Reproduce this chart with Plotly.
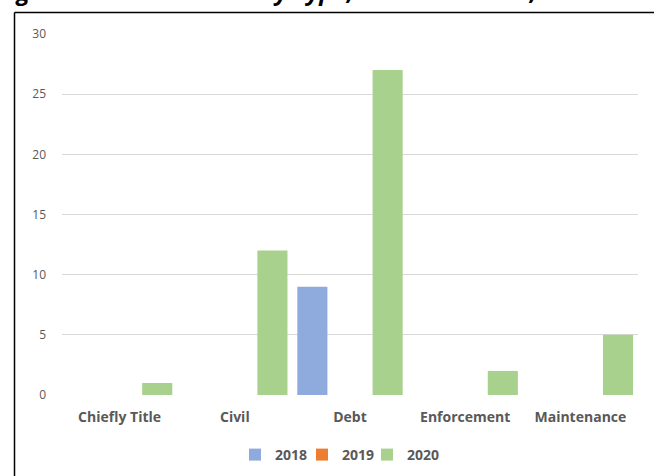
import plotly.graph_objects as go

categories = ["Chiefly Title", "Civil", "Debt", "Enforcement", "Maintenance"]
cases_2018 = [0, 0, 9, 0, 0]
cases_2019 = [0, 0, 0, 0, 0]
cases_2020 = [1, 12, 27, 2, 5]

W, H = 654, 476
L, R, T, B = 62, 16, 34, 81
pw, ph = W - L - R, H - T - B


def px(x):
    return (x - L) / pw


def py(y):
    return (H - B - y) / ph


font = "'Open Sans', Lato, 'Liberation Sans', sans-serif"

fig = go.Figure()
fig.add_trace(go.Bar(x=categories, y=cases_2018, name="2018", legend="legend",
                     marker=dict(color="#8FAADC", line=dict(width=0))))
fig.add_trace(go.Bar(x=categories, y=cases_2019, name="2019", legend="legend2",
                     marker=dict(color="#ED7D31", line=dict(width=0))))
fig.add_trace(go.Bar(x=categories, y=cases_2020, name="2020", legend="legend3",
                     marker=dict(color="#A9D18E", line=dict(width=0))))


def leg(x):
    return dict(orientation="h", x=px(x), xanchor="left",
                y=py(455), yanchor="middle", bgcolor="rgba(0,0,0,0)",
                font=dict(size=14, color="#595959", weight="bold"),
                itemwidth=30)


fig.update_layout(
    width=W, height=H,
    margin=dict(l=L, r=R, t=T, b=B, pad=0, autoexpand=False),
    paper_bgcolor="white", plot_bgcolor="white",
    font=dict(family=font, color="#595959"),
    barmode="group", bargap=0.02, bargroupgap=0.2,
    showlegend=True,
    legend=leg(235), legend2=leg(302), legend3=leg(367),
    xaxis=dict(showgrid=False, showline=False, zeroline=False,
               ticks="", ticklabelstandoff=12,
               tickfont=dict(size=14, color="#595959", weight="bold")),
    yaxis=dict(range=[0, 30], dtick=5, showgrid=True, gridcolor="#D9D9D9",
               gridwidth=1, zeroline=False, showline=False, ticks="",
               ticklabelstandoff=15, tickfont=dict(size=12, color="#595959")),
    shapes=[
        dict(type="line", xref="paper", yref="paper",
             x0=px(14.5), x1=px(14.5), y0=py(12.5), y1=py(H + 2),
             line=dict(color="black", width=1.5)),
        dict(type="line", xref="paper", yref="paper",
             x0=px(14.5), x1=px(W + 2), y0=py(12.5), y1=py(12.5),
             line=dict(color="black", width=1.5)),
    ],
    annotations=[
        dict(text="<b><i>Figure 3.1: Court Cases by Type, Yorba Province, 2018-2020</i></b>",
             xref="paper", yref="paper", x=px(327), y=py(9),
             xanchor="center", yanchor="bottom", showarrow=False,
             font=dict(size=24, color="black", family=font)),
    ],
)

fig.write_html("out.html", config={"displayModeBar": False},
               post_script="document.body.style.margin='0';")
